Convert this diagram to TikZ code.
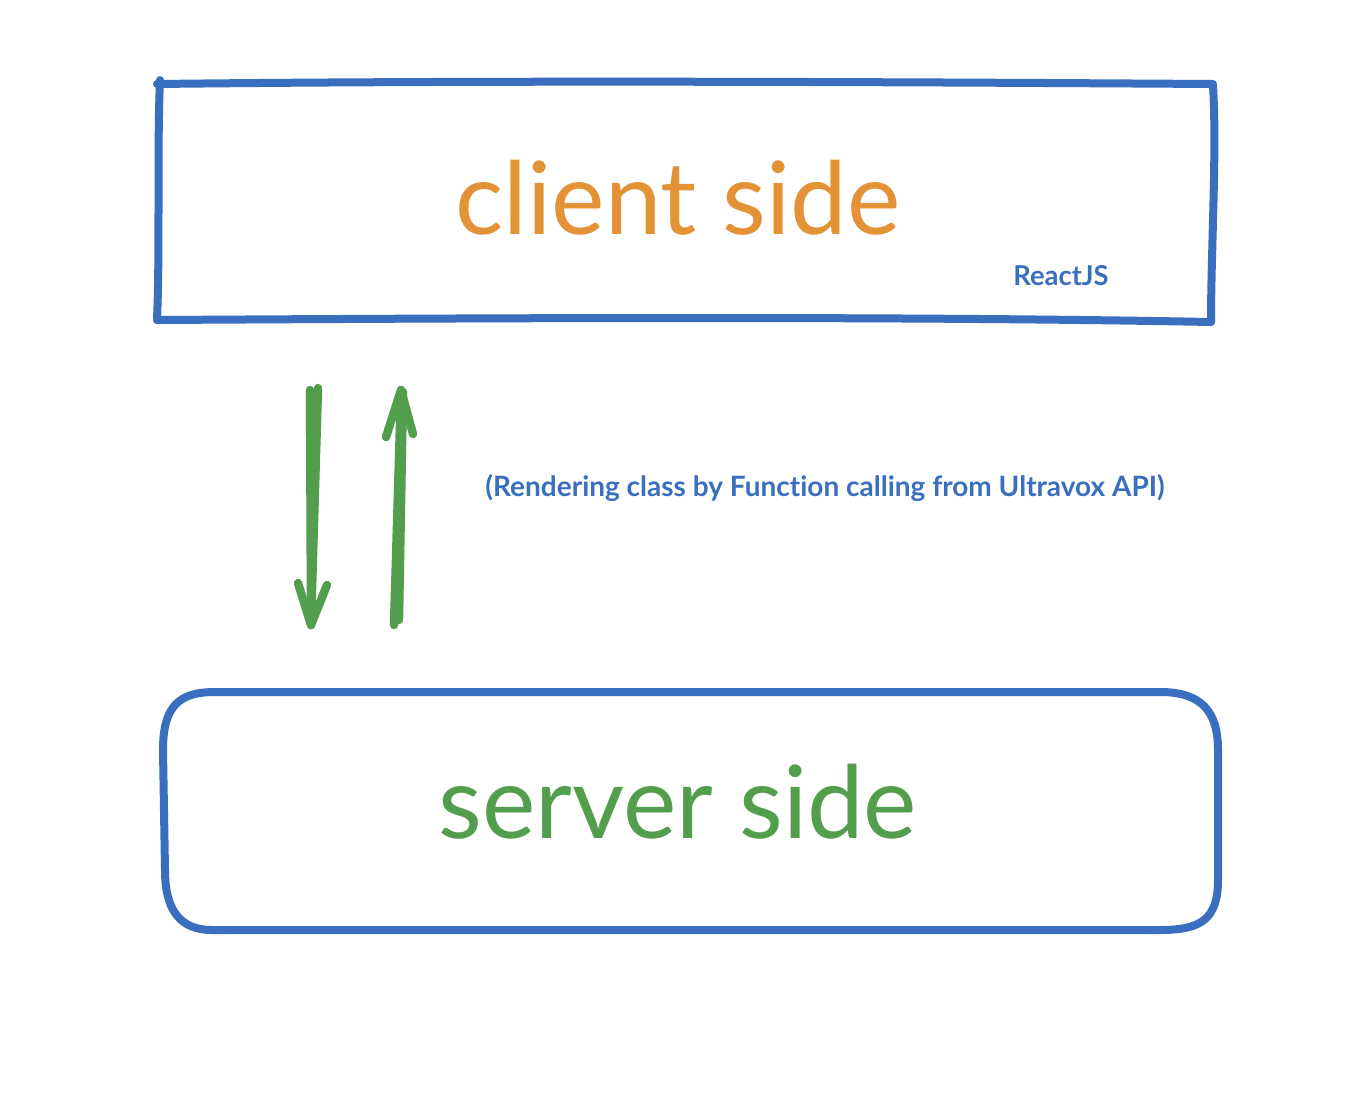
\documentclass[tikz,border=0pt]{standalone}
\usepackage{fontspec}
\setmainfont{Lato}[Ligatures=NoCommon]
\definecolor{sbblue}{HTML}{3A6FBF}
\definecolor{sbgreen}{HTML}{529E4D}
\definecolor{sborange}{HTML}{E39235}
\tikzset{
  handline/.style={line width=4pt, line cap=round, line join=round},
  bluestroke/.style={handline, draw=sbblue},
  greenstroke/.style={handline, draw=sbgreen, line width=4.2pt},
}
\begin{document}
\begin{tikzpicture}[x=0.5pt,y=-0.5pt]
\useasboundingbox[fill=white] (0,0) rectangle (1360,1114);
% top box (hand drawn)
\draw[bluestroke] (157,84) .. controls (500,80) and (900,82) .. (1213,84);
\draw[bluestroke] (1213,86) .. controls (1217,150) and (1211,250) .. (1211,322);
\draw[bluestroke] (1211,322) .. controls (900,316) and (500,318) .. (157,320);
\draw[bluestroke] (157,320) .. controls (160,250) and (157,150) .. (160,80);
% bottom box rounded
\draw[bluestroke] (215,692) -- (1160,692)
  .. controls (1200,692) and (1218,710) .. (1218,750)
  -- (1218,880) .. controls (1218,920) and (1200,930) .. (1160,930)
  -- (212,930) .. controls (180,930) and (165,910) .. (165,870)
  -- (163,750) .. controls (163,705) and (180,692) .. (215,692) -- cycle;
% texts
\node[text=sborange, font=\fontsize{50.5}{58}\selectfont, anchor=base] (client) at (678,234) {client side};
\node[text=sbblue, font=\bfseries\fontsize{13.7}{16}\selectfont, anchor=base] (react) at (1061,285) {ReactJS};
\node[text=sbgreen, font=\fontsize{50.5}{58}\selectfont, anchor=base] (server) at (678,838) {server side};
\node[text=sbblue, font=\bfseries\fontsize{14}{16}\selectfont, anchor=base] (note) at (825,496) {(Rendering class by Function calling from Ultravox API)};
% down arrow
\coordinate (d1) at (310,390);
\coordinate (d2) at (318,388);
\coordinate (dtip) at (311,625);
\draw[greenstroke] (d1) -- (dtip);
\draw[greenstroke] (d2) -- (dtip);
\draw[greenstroke] (298,583) -- (dtip) -- (327,585);
% up arrow
\coordinate (u1) at (394,625);
\coordinate (u2) at (399,620);
\coordinate (utip) at (401,390);
\draw[greenstroke] (u1) -- (utip);
\draw[greenstroke] (u2) -- (403,392);
\draw[greenstroke] (386,437) -- (utip) -- (413,434);
\end{tikzpicture}
\end{document}
